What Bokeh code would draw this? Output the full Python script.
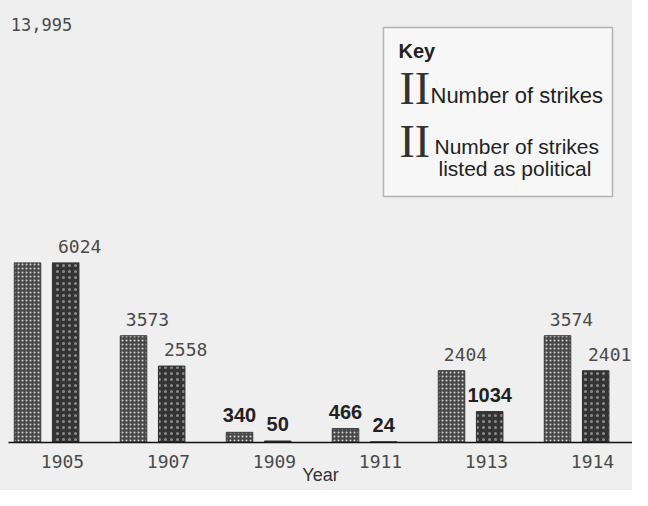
from bokeh.plotting import figure
from bokeh.layouts import column
from bokeh.models import ColumnDataSource, Range1d, FixedTicker, LabelSet, Label, BoxAnnotation
from bokeh.core.properties import value
from bokeh.embed import file_html
from bokeh.resources import INLINE

# ---- data ----
years = ["1905", "1907", "1909", "1911", "1913", "1914"]
strikes = [13995, 3573, 340, 466, 2404, 3574]
political = [6024, 2558, 50, 24, 1034, 2401]
key_title = "Key"
key_strikes = "Number of strikes"
key_political = ["Number of strikes", "listed as political"]

# which value labels are typed (mono) vs bold sans
strike_big = [0]
strike_mono = [1, 4, 5]
strike_bold = [2, 3]
pol_mono = [0, 1, 5]
pol_bold = [2, 3, 4]

# axis break (bars taller than this are cut off, broken-axis style)
Y_BREAK = 6024

BG = "#efefef"
MONO = "DejaVu Sans Mono"
SANS = "Liberation Sans"

W, H = 632, 490
TOP_H = 262          # height of upper (label / key) panel
FRAME_H = 180        # bar frame height in the lower panel
BOTTOM_H = H - TOP_H
X0, DX = 62.0, 106.0  # pixel of first tick, pixels per group
FL = 8                # frame left (both panels, frames are aligned)


def xr():
    return Range1d((FL - X0) / DX, (W - X0) / DX)


idx = list(range(len(years)))
gc = [i - 0.15 for i in idx]          # group centres
xs = [c - 0.18 for c in gc]
xp = [c + 0.18 for c in gc]

src = ColumnDataSource(dict(xs=xs, xp=xp, strikes=strikes, political=political))


def fmt(v):
    return f"{v:,}" if v >= 10000 else str(v)


def add_labels(fig, xvals, vals, keep, style, upper):
    keep = [i for i in keep if (vals[i] >= Y_BREAK) == upper]
    if not keep:
        return
    s = ColumnDataSource(dict(x=[xvals[i] for i in keep],
                              y=[vals[i] for i in keep],
                              t=[fmt(vals[i]) for i in keep]))
    if style == "mono":
        kw = dict(y_offset=10, x_offset=14, text_baseline="bottom",
                  text_font=value(MONO), text_font_style="normal",
                  text_font_size="18px", text_color="#4a4a4a")
    elif style == "big":
        kw = dict(y_offset=0, x_offset=14, text_baseline="middle",
                  text_font=value(MONO), text_font_style="normal",
                  text_font_size="17px", text_color="#4a4a4a")
    else:
        kw = dict(y_offset=10, x_offset=0, text_baseline="bottom",
                  text_font=value(SANS), text_font_style="bold",
                  text_font_size="20px", text_color="#222222")
    fig.add_layout(LabelSet(x="x", y="y", text="t", source=s,
                            text_align="center", **kw))


def all_labels(fig, upper):
    add_labels(fig, xs, strikes, strike_big, "big", upper)
    add_labels(fig, xs, strikes, strike_mono, "mono", upper)
    add_labels(fig, xs, strikes, strike_bold, "bold", upper)
    add_labels(fig, xp, political, pol_mono, "mono", upper)
    add_labels(fig, xp, political, pol_bold, "bold", upper)


# ---- upper panel: continuation of the value axis above the break ----
top = figure(width=W, height=TOP_H, output_backend="svg", toolbar_location=None,
             x_range=xr(),
             y_range=Range1d(Y_BREAK, Y_BREAK * (FRAME_H + TOP_H) / FRAME_H),
             min_border_left=FL, min_border_right=0, min_border_top=0,
             min_border_bottom=0)
top.background_fill_color = BG
top.border_fill_color = BG
top.outline_line_color = None
top.grid.visible = False
top.axis.visible = False
all_labels(top, True)

# key box (screen units relative to the frame, y upward)
top.add_layout(BoxAnnotation(left=375, right=604, top=235, bottom=66,
                             left_units="screen", right_units="screen",
                             top_units="screen", bottom_units="screen",
                             fill_color="#f7f7f7", fill_alpha=1,
                             line_color="#222222", line_width=1.5))
top.add_layout(Label(x=390, y=212, x_units="screen", y_units="screen", text=key_title,
                     text_font=SANS, text_font_style="bold", text_font_size="20px",
                     text_color="#222222", text_baseline="alphabetic"))
for yb in (174, 121):
    top.add_layout(Label(x=391, y=yb, x_units="screen", y_units="screen", text="II",
                         text_font="Liberation Serif", text_font_size="46px",
                         text_color="#333333", text_baseline="alphabetic"))
top.add_layout(Label(x=422, y=167, x_units="screen", y_units="screen", text=key_strikes,
                     text_font=SANS, text_font_size="22px", text_color="#222222",
                     text_baseline="alphabetic"))
top.add_layout(Label(x=426, y=116, x_units="screen", y_units="screen", text=key_political[0],
                     text_font=SANS, text_font_size="21px", text_color="#222222",
                     text_baseline="alphabetic"))
top.add_layout(Label(x=430, y=94, x_units="screen", y_units="screen", text=key_political[1],
                     text_font=SANS, text_font_size="21px", text_color="#222222",
                     text_baseline="alphabetic"))

# ---- lower panel: bars ----
p = figure(width=W, height=BOTTOM_H, output_backend="svg", toolbar_location=None,
           x_range=xr(), y_range=Range1d(0, Y_BREAK),
           min_border_left=FL, min_border_right=0, min_border_top=0,
           min_border_bottom=BOTTOM_H - FRAME_H)
p.background_fill_color = BG
p.border_fill_color = BG
p.outline_line_color = None
p.grid.visible = False
p.yaxis.visible = False

p.vbar(x="xs", top="strikes", width=0.25, source=src, fill_color="#484848",
       line_color="#3a3a3a", hatch_pattern="dot", hatch_color="#d6d6d6",
       hatch_scale=4, hatch_weight=1.5)
p.vbar(x="xp", top="political", width=0.25, source=src, fill_color="#343434",
       line_color="#2e2e2e", hatch_pattern="dot", hatch_color="#8a8a8a",
       hatch_scale=6, hatch_weight=1)

ax = p.xaxis[0]
ax.ticker = FixedTicker(ticks=idx)
ax.major_label_overrides = {i: years[i] for i in idx}
ax.major_tick_line_color = None
ax.minor_tick_line_color = None
ax.major_tick_out = 0
ax.axis_line_color = "#111111"
ax.axis_line_width = 1.5
ax.major_label_text_font = MONO
ax.major_label_text_font_size = "18px"
ax.major_label_text_color = "#4a4a4a"
ax.major_label_standoff = 12
ax.axis_label = "Year"
ax.axis_label_text_font = SANS
ax.axis_label_text_font_style = "normal"
ax.axis_label_text_font_size = "18px"
ax.axis_label_text_color = "#333333"
ax.axis_label_standoff = -6

all_labels(p, False)

layout = column(top, p, spacing=0, styles={"background-color": BG})
open("out.html", "w").write(file_html(layout, INLINE))
